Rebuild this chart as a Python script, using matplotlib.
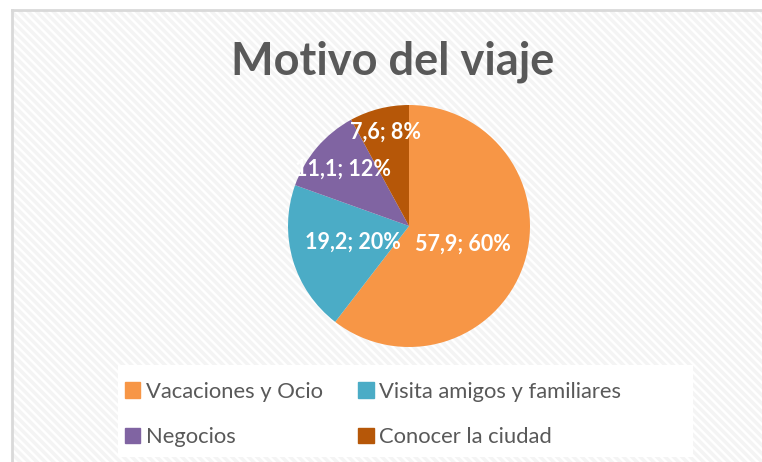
import matplotlib
matplotlib.use("Agg")
import matplotlib.pyplot as plt
from matplotlib.patches import Rectangle
import numpy as np

# data
categorias = ["Vacaciones y Ocio", "Visita amigos y familiares", "Negocios", "Conocer la ciudad"]
valores = [57.9, 19.2, 11.1, 7.6]
colores = ["#F79646", "#4BACC6", "#8064A2", "#B65708"]
titulo = "Motivo del viaje"

plt.rcParams['font.family'] = ['Lato', 'DejaVu Sans']
plt.rcParams['hatch.linewidth'] = 2.5

fig = plt.figure(figsize=(7.62, 4.62), dpi=100)
W, H = 762, 462

# chart area with striped background
bg = fig.add_axes([0, 0, 1, 1])
bg.set_xlim(0, W)
bg.set_ylim(H, 0)
bg.axis('off')
bg.add_patch(Rectangle((12, 10), 800, 500, facecolor='white', edgecolor='#f4f4f4',
                       linewidth=0, hatch='\\\\\\\\'))
bg.plot([12, W], [10, 10], color='#d9d9d9', lw=2)
bg.plot([12, 12], [10, H], color='#d9d9d9', lw=2)
# legend box
bg.add_patch(Rectangle((118, 365), 575, 92, facecolor='white', edgecolor='none'))

bg.text(393, 62, titulo, ha='center', va='center', fontsize=32.5, fontweight='bold', color='#595959')

# pie
ax = fig.add_axes([(409 - 121) / W, (H - 347) / H, 242 / W, 242 / H])
wedges, _ = ax.pie(valores, colors=colores, startangle=90, counterclock=False,
                   wedgeprops=dict(linewidth=0))
ax.set_xlim(-1, 1)
ax.set_ylim(-1, 1)
ax.set_aspect('equal')

total = sum(valores)
dist = [0.47, 0.48, 0.72, 0.80]
for w, v, d in zip(wedges, valores, dist):
    ang = np.deg2rad((w.theta1 + w.theta2) / 2)
    txt = f"{v:.1f}".replace('.', ',') + f"; {round(v / total * 100):.0f}%"
    ax.text(d * np.cos(ang), d * np.sin(ang), txt, ha='center', va='center',
            color='white', fontsize=15.5, fontweight='bold')

# legend filled row by row
orden = [0, 2, 1, 3]
handles = [Rectangle((0, 0), 1, 1, color=colores[i]) for i in orden]
labels = [categorias[i] for i in orden]
fig.legend(handles, labels, ncol=2, frameon=False, loc='upper left',
           bbox_to_anchor=(105 / W, 1 - 362 / H), fontsize=15.8,
           handlelength=0.7, handleheight=0.7, handletextpad=0.25,
           labelspacing=1.15, columnspacing=1.62, labelcolor='#595959')

fig.savefig("out.png", dpi=100)
